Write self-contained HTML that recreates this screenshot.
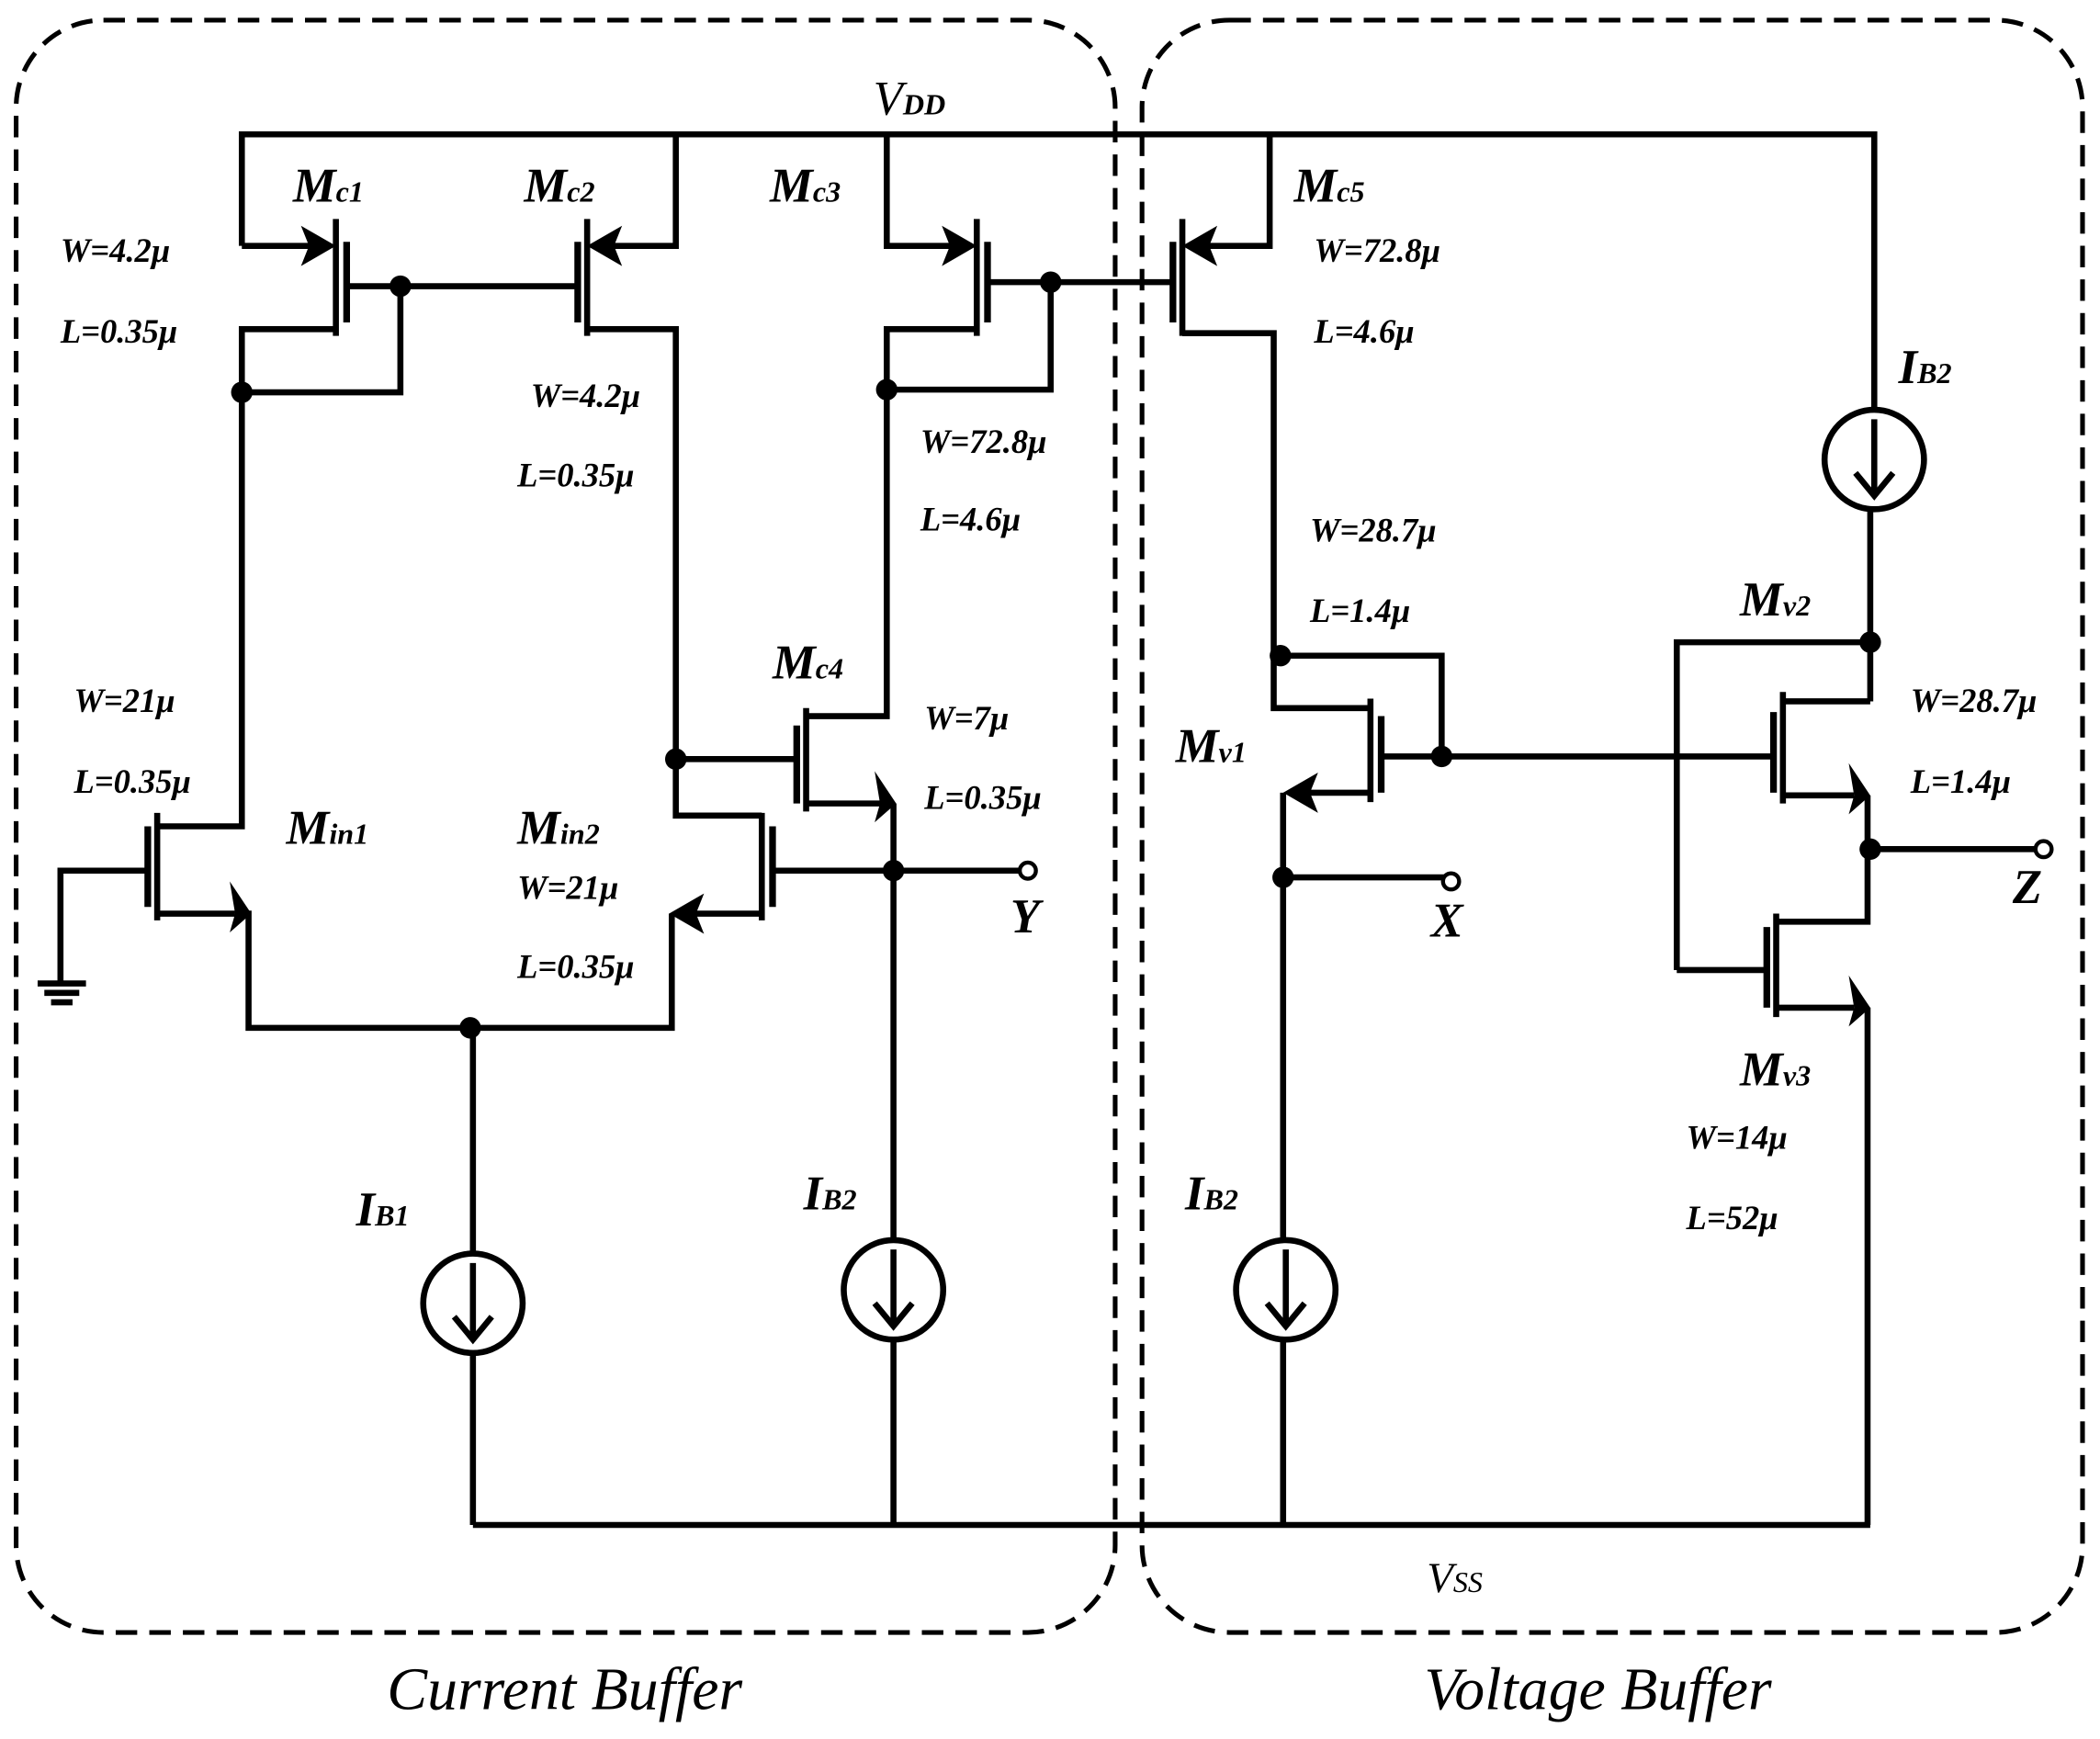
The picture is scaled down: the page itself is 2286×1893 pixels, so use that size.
<!DOCTYPE html>
<html><head><meta charset="utf-8"><style>
html,body{margin:0;padding:0;background:#fff;}
svg{display:block;}
text{font-family:"Liberation Serif",serif;font-style:italic;fill:#000;}
.m{font-size:36px;font-weight:bold;}
.s{font-size:22px;font-weight:bold;}
.wl{font-size:25px;font-weight:bold;}
</style></head><body>
<svg width="2286" height="1893" viewBox="0 0 1563 1294.3" preserveAspectRatio="none" xmlns="http://www.w3.org/2000/svg">
<g fill="none" stroke="#000" stroke-width="3.5" stroke-dasharray="16,9">
<rect x="12" y="15" width="818" height="1200" rx="65"/>
<rect x="850" y="15" width="700" height="1200" rx="65"/>
</g>
<g fill="none" stroke="#000" stroke-width="4.5" stroke-linejoin="miter">
<polyline points="180,183 180,100 1395,100 1395,305"/>
<line x1="352" y1="1135" x2="1392" y2="1135"/>
<line x1="250" y1="163" x2="250" y2="250"/>
<line x1="258" y1="180" x2="258" y2="240" stroke-width="5"/>
<line x1="180" y1="183" x2="240" y2="183"/>
<polyline points="250,245 180,245 180,615 117,615"/>
<line x1="258" y1="213" x2="430" y2="213"/>
<polyline points="298,213 298,292 180,292"/>
<line x1="437" y1="163" x2="437" y2="250"/>
<line x1="430" y1="180" x2="430" y2="240" stroke-width="5"/>
<polyline points="503,100 503,183 447,183"/>
<polyline points="437,245 503,245 503,607 567,607"/>
<line x1="727" y1="163" x2="727" y2="250"/>
<line x1="735" y1="180" x2="735" y2="240" stroke-width="5"/>
<polyline points="660,100 660,183 717,183"/>
<polyline points="727,245 660,245 660,533 600,533"/>
<line x1="735" y1="210" x2="873" y2="210"/>
<polyline points="782,210 782,290 660,290"/>
<line x1="880" y1="163" x2="880" y2="250"/>
<line x1="873" y1="180" x2="873" y2="240" stroke-width="5"/>
<polyline points="945,100 945,183 890,183"/>
<polyline points="880,248 948,248 948,527 1020,527"/>
<line x1="600" y1="527" x2="600" y2="604"/>
<line x1="593" y1="540" x2="593" y2="598" stroke-width="5"/>
<line x1="503" y1="565" x2="593" y2="565"/>
<polyline points="600,598 655,598"/>
<line x1="665" y1="598" x2="665" y2="923"/>
<line x1="665" y1="997" x2="665" y2="1135"/>
<line x1="575" y1="648" x2="760" y2="648"/>
<line x1="567" y1="605" x2="567" y2="685"/>
<line x1="575" y1="615" x2="575" y2="675" stroke-width="5"/>
<polyline points="567,680 510,680"/>
<polyline points="500,680 500,765 185,765 185,680 175,680"/>
<line x1="117" y1="605" x2="117" y2="685"/>
<line x1="110" y1="615" x2="110" y2="675" stroke-width="5"/>
<polyline points="110,648 45,648 45,730"/>
<line x1="117" y1="680" x2="175" y2="680"/>
<line x1="28" y1="732" x2="64" y2="732"/>
<line x1="33" y1="739" x2="59" y2="739"/>
<line x1="38" y1="746" x2="54" y2="746"/>
<line x1="352" y1="765" x2="352" y2="933"/>
<line x1="352" y1="1007" x2="352" y2="1135"/>
<circle cx="352" cy="970" r="37"/>
<line x1="352" y1="940" x2="352" y2="995"/>
<polyline points="338,980 352,997 366,980"/>
<circle cx="665" cy="960" r="37"/>
<line x1="665" y1="930" x2="665" y2="985"/>
<polyline points="651,970 665,987 679,970"/>
<line x1="1020" y1="520" x2="1020" y2="597"/>
<line x1="1028" y1="533" x2="1028" y2="590" stroke-width="5"/>
<polyline points="953,488 1073,488 1073,563"/>
<line x1="1028" y1="563" x2="1320" y2="563"/>
<line x1="1020" y1="590" x2="965" y2="590"/>
<polyline points="955,590 955,923"/>
<line x1="955" y1="997" x2="955" y2="1135"/>
<line x1="955" y1="653" x2="1075" y2="653"/>
<circle cx="957" cy="960" r="37"/>
<line x1="957" y1="930" x2="957" y2="985"/>
<polyline points="943,970 957,987 971,970"/>
<circle cx="1395" cy="342" r="37"/>
<line x1="1395" y1="312" x2="1395" y2="367"/>
<polyline points="1381,352 1395,369 1409,352"/>
<line x1="1392" y1="379" x2="1392" y2="522"/>
<line x1="1327" y1="515" x2="1327" y2="598"/>
<line x1="1320" y1="530" x2="1320" y2="590" stroke-width="5"/>
<polyline points="1248,722 1248,478 1392,478"/>
<line x1="1327" y1="522" x2="1392" y2="522"/>
<line x1="1327" y1="592" x2="1380" y2="592"/>
<polyline points="1390,592 1390,686 1322,686"/>
<line x1="1390" y1="632" x2="1515" y2="632"/>
<line x1="1322" y1="680" x2="1322" y2="757"/>
<line x1="1315" y1="690" x2="1315" y2="750" stroke-width="5"/>
<line x1="1248" y1="722" x2="1315" y2="722"/>
<line x1="1322" y1="750" x2="1380" y2="750"/>
<line x1="1390" y1="750" x2="1390" y2="1135"/>
</g>
<g fill="#000">
<polygon points="250,183 224,168 230,183 224,198"/>
<polygon points="437,183 463,168 457,183 463,198"/>
<polygon points="727,183 701,168 707,183 701,198"/>
<polygon points="880,183 906,168 900,183 906,198"/>
<polygon points="667,598 651,574 655,598 651,612"/>
<polygon points="498,680 524,665 518,680 524,695"/>
<polygon points="187,680 171,656 175,680 171,694"/>
<polygon points="955,590 981,575 975,590 981,605"/>
<polygon points="1392,592 1376,568 1380,592 1376,606"/>
<polygon points="1392,750 1376,726 1380,750 1376,764"/>
<circle cx="298" cy="213" r="8"/><circle cx="180" cy="292" r="8"/>
<circle cx="782" cy="210" r="8"/><circle cx="660" cy="290" r="8"/>
<circle cx="503" cy="565" r="8"/><circle cx="665" cy="648" r="8"/>
<circle cx="350" cy="765" r="8"/>
<circle cx="953" cy="488" r="8"/><circle cx="1073" cy="563" r="8"/>
<circle cx="955" cy="653" r="8"/>
<circle cx="1392" cy="478" r="8"/><circle cx="1392" cy="632" r="8"/>
</g>
<g fill="#fff" stroke="#000" stroke-width="3">
<circle cx="765" cy="648" r="6"/><circle cx="1080" cy="656" r="6"/><circle cx="1521" cy="632" r="6"/>
</g>
<text x="650" y="85" style="font-size:36px">V<tspan class="s">DD</tspan></text>
<text x="1062" y="1185" style="font-size:32px">V<tspan style="font-size:22px">SS</tspan></text>
<text x="218" y="150" class="m">M<tspan class="s">c1</tspan></text>
<text x="390" y="150" class="m">M<tspan class="s">c2</tspan></text>
<text x="573" y="150" class="m">M<tspan class="s">c3</tspan></text>
<text x="963" y="150" class="m">M<tspan class="s">c5</tspan></text>
<text x="575" y="505" class="m">M<tspan class="s">c4</tspan></text>
<text x="213" y="628" class="m">M<tspan class="s">in1</tspan></text>
<text x="385" y="628" class="m">M<tspan class="s">in2</tspan></text>
<text x="875" y="567" class="m">M<tspan class="s">v1</tspan></text>
<text x="1295" y="458" class="m">M<tspan class="s">v2</tspan></text>
<text x="1295" y="808" class="m">M<tspan class="s">v3</tspan></text>
<text x="265" y="912" class="m">I<tspan class="s">B1</tspan></text>
<text x="598" y="900" class="m">I<tspan class="s">B2</tspan></text>
<text x="882" y="900" class="m">I<tspan class="s">B2</tspan></text>
<text x="1413" y="285" class="m">I<tspan class="s">B2</tspan></text>
<text x="752" y="694" class="m">Y</text>
<text x="1065" y="697" class="m">X</text>
<text x="1498" y="672" class="m">Z</text>
<text x="45" y="195" class="wl">W=4.2μ</text><text x="45" y="255" class="wl">L=0.35μ</text>
<text x="395" y="303" class="wl">W=4.2μ</text><text x="385" y="362" class="wl">L=0.35μ</text>
<text x="685" y="337" class="wl">W=72.8μ</text><text x="685" y="395" class="wl">L=4.6μ</text>
<text x="978" y="195" class="wl">W=72.8μ</text><text x="978" y="255" class="wl">L=4.6μ</text>
<text x="975" y="403" class="wl">W=28.7μ</text><text x="975" y="463" class="wl">L=1.4μ</text>
<text x="688" y="543" class="wl">W=7μ</text><text x="688" y="602" class="wl">L=0.35μ</text>
<text x="55" y="530" class="wl">W=21μ</text><text x="55" y="590" class="wl">L=0.35μ</text>
<text x="385" y="669" class="wl">W=21μ</text><text x="385" y="728" class="wl">L=0.35μ</text>
<text x="1422" y="530" class="wl">W=28.7μ</text><text x="1422" y="590" class="wl">L=1.4μ</text>
<text x="1255" y="855" class="wl">W=14μ</text><text x="1255" y="915" class="wl">L=52μ</text>
<text x="288" y="1272" style="font-size:45px">Current Buffer</text>
<text x="1060" y="1272" style="font-size:45px">Voltage Buffer</text>
</svg>
</body></html>
